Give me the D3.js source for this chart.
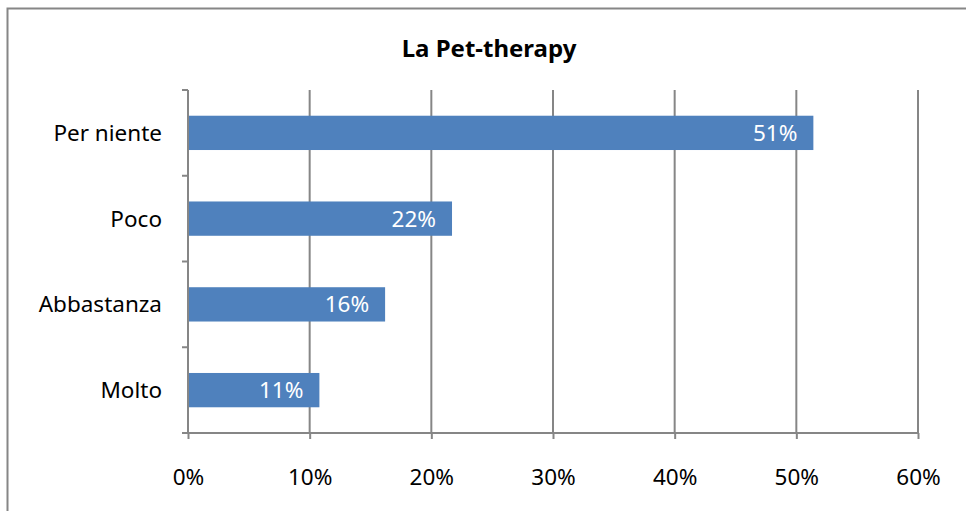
<!DOCTYPE html>
<html>
<head>
<meta charset="utf-8">
<script src="https://cdn.jsdelivr.net/npm/d3@7"></script>
<style>
  body { margin: 0; background: #fff; }
  text { font-family: "Noto Sans", "Open Sans", sans-serif; }
</style>
</head>
<body>
<div id="chart"></div>
<script>
// data
var categories = ['Per niente', 'Poco', 'Abbastanza', 'Molto'];
var values = [51.4, 21.7, 16.2, 10.8];
var valueLabels = ['51%', '22%', '16%', '11%'];
var tickValues = [0, 10, 20, 30, 40, 50, 60];

var width = 966, height = 511;
var margin = {top: 90, right: 48, bottom: 78, left: 188};
var fontSize = 22.5;

var svg = d3.select('#chart').append('svg')
  .attr('width', width).attr('height', height);

// outer frame of the chart area
svg.append('rect')
  .attr('x', 7.5).attr('y', 8.5)
  .attr('width', 970).attr('height', 520)
  .attr('fill', 'none').attr('stroke', '#868686').attr('stroke-width', 2);

svg.append('text')
  .attr('x', 489).attr('y', 57)
  .attr('text-anchor', 'middle')
  .attr('font-size', 24).attr('font-weight', 'bold')
  .text('La Pet-therapy');

var x = d3.scaleLinear().domain([0, 60]).range([margin.left, width - margin.right]);
var y = d3.scaleBand().domain(categories)
  .range([margin.top, height - margin.bottom])
  .paddingInner(0.6).paddingOuter(0.3);

var g = svg.append('g');

// vertical gridlines
g.selectAll('line.grid').data(tickValues.slice(1)).enter()
  .append('line').attr('class', 'grid')
  .attr('x1', function(d) { return x(d); })
  .attr('x2', function(d) { return x(d); })
  .attr('y1', margin.top).attr('y2', height - margin.bottom)
  .attr('stroke', '#868686').attr('stroke-width', 2);

// bars
g.selectAll('rect.bar').data(values).enter()
  .append('rect').attr('class', 'bar')
  .attr('x', x(0))
  .attr('y', function(d, i) { return y(categories[i]); })
  .attr('width', function(d) { return x(d) - x(0); })
  .attr('height', y.bandwidth())
  .attr('fill', '#4F81BD');

// value labels inside bar ends
g.selectAll('text.val').data(values).enter()
  .append('text').attr('class', 'val')
  .attr('x', function(d) { return x(d) - 16; })
  .attr('y', function(d, i) { return y(categories[i]) + y.bandwidth() / 2; })
  .attr('dy', '0.36em')
  .attr('text-anchor', 'end')
  .attr('font-size', fontSize)
  .attr('fill', '#fff')
  .text(function(d, i) { return valueLabels[i]; });

// x axis
var xAxis = d3.axisBottom(x)
  .tickValues(tickValues)
  .tickSize(6)
  .tickPadding(30)
  .tickFormat(function(d) { return d + '%'; });
var xg = g.append('g')
  .attr('transform', 'translate(0,' + (height - margin.bottom) + ')')
  .call(xAxis);
xg.select('.domain').remove();
xg.append('line')
  .attr('x1', margin.left - 6).attr('x2', x(60))
  .attr('stroke', '#868686').attr('stroke-width', 2);
xg.selectAll('.tick line').attr('stroke', '#868686').attr('stroke-width', 2);
xg.selectAll('.tick text')
  .attr('font-size', fontSize).attr('fill', '#000')
  .style('font-family', '"Noto Sans", sans-serif');

// y axis with ticks between categories
g.append('line')
  .attr('x1', x(0)).attr('x2', x(0))
  .attr('y1', margin.top).attr('y2', height - margin.bottom)
  .attr('stroke', '#868686').attr('stroke-width', 2);
var bandEdges = d3.range(categories.length + 1).map(function(i) {
  return margin.top + i * (height - margin.bottom - margin.top) / categories.length;
});
g.selectAll('line.ytick').data(bandEdges).enter()
  .append('line').attr('class', 'ytick')
  .attr('x1', x(0) - 6).attr('x2', x(0))
  .attr('y1', function(d) { return d; }).attr('y2', function(d) { return d; })
  .attr('stroke', '#868686').attr('stroke-width', 2);

g.selectAll('text.cat').data(categories).enter()
  .append('text').attr('class', 'cat')
  .attr('x', x(0) - 26)
  .attr('y', function(d) { return y(d) + y.bandwidth() / 2; })
  .attr('dy', '0.36em')
  .attr('text-anchor', 'end')
  .attr('font-size', fontSize)
  .text(function(d) { return d; });
</script>
</body>
</html>
